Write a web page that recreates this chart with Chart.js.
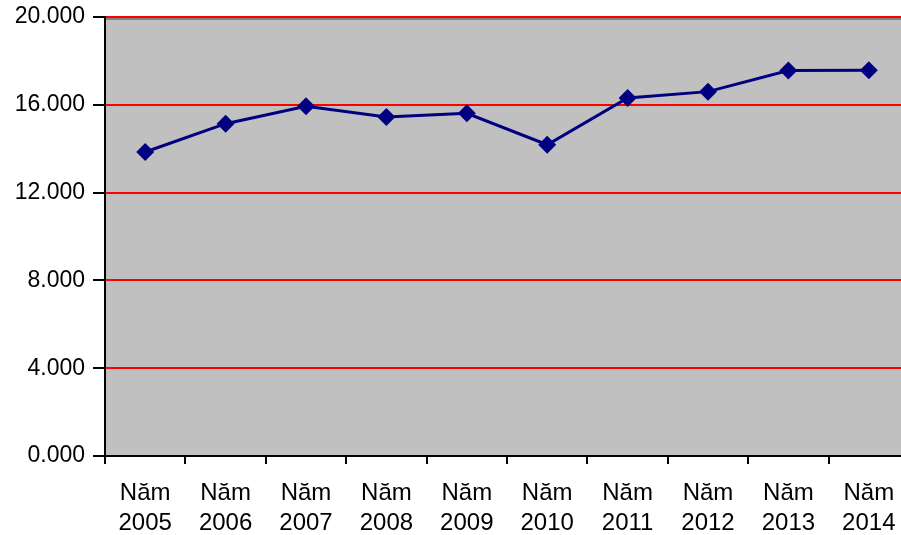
<!DOCTYPE html>
<html>
<head>
<meta charset="utf-8">
<script src="https://cdn.jsdelivr.net/npm/chart.js@4/dist/chart.umd.min.js"></script>
<style>
  html, body { margin: 0; padding: 0; background: #ffffff; overflow: hidden; }
  #wrap { width: 901px; height: 535px; overflow: hidden; }
  canvas { display: block; }
</style>
</head>
<body>
<!-- the canvas is a little wider than the page so the plot runs past the right edge -->
<div id="wrap"><canvas id="c" width="918" height="535"></canvas></div>
<script>
// Năm (year) categories and yearly values
const years = ['2005', '2006', '2007', '2008', '2009', '2010', '2011', '2012', '2013', '2014'];
const categories = years.map(y => ['Năm', y]);
const values = [13850, 15140, 15930, 15440, 15610, 14180, 16310, 16600, 17560, 17570];
const yTicks = [0, 4000, 8000, 12000, 16000, 20000];

// Grey plot background plus the darker frame line along the top edge
const plotBackground = {
  id: 'plotBackground',
  beforeDraw(chart) {
    const { ctx, chartArea: a } = chart;
    ctx.save();
    ctx.fillStyle = '#c0c0c0';
    ctx.fillRect(a.left, a.top, a.right - a.left, a.bottom - a.top);
    ctx.restore();
  },
  afterDraw(chart) {
    const { ctx, chartArea: a } = chart;
    ctx.save();
    ctx.fillStyle = '#808080';
    ctx.fillRect(a.left + 1, a.top + 1, a.right - a.left, 2);
    ctx.restore();
  }
};

new Chart(document.getElementById('c'), {
  type: 'line',
  data: {
    labels: categories,
    datasets: [{
      data: values,
      borderColor: '#000080',
      backgroundColor: '#000080',
      borderWidth: 3,
      tension: 0,
      pointStyle: 'rectRot',
      pointRadius: 9,
      pointHoverRadius: 9,
      pointBorderWidth: 0,
      pointBackgroundColor: '#000080'
    }]
  },
  options: {
    responsive: false,
    animation: false,
    layout: { padding: { top: 17, right: 1, left: 0, bottom: 0 } },
    plugins: { legend: { display: false }, tooltip: { enabled: false } },
    scales: {
      x: {
        offset: true,
        afterFit: s => { s.height = 79; s.paddingLeft = 0; s.paddingRight = 0; },
        border: { color: '#000000', width: 2 },
        grid: {
          offset: true,
          drawOnChartArea: false,
          drawTicks: true,
          tickLength: 8,
          tickColor: '#000000',
          lineWidth: 2
        },
        ticks: {
          color: '#000000',
          maxRotation: 0,
          autoSkip: false,
          padding: 14,
          font: { family: 'Liberation Sans, Arial, sans-serif', size: 24, lineHeight: 1.25 }
        }
      },
      y: {
        min: 0,
        max: 20000,
        afterBuildTicks: s => { s.ticks = yTicks.map(v => ({ value: v })); },
        afterFit: s => { s.width = 105; s.paddingTop = 0; s.paddingBottom = 0; },
        border: { color: '#000000', width: 2 },
        grid: {
          color: '#ff0000',
          lineWidth: 2,
          drawTicks: true,
          tickLength: 12,
          tickColor: '#000000',
          tickWidth: 2
        },
        ticks: {
          color: '#000000',
          padding: 8,
          font: { family: 'Liberation Sans, Arial, sans-serif', size: 23 },
          callback: v => (v / 1000).toFixed(3)
        }
      }
    }
  },
  plugins: [plotBackground]
});
</script>
</body>
</html>
